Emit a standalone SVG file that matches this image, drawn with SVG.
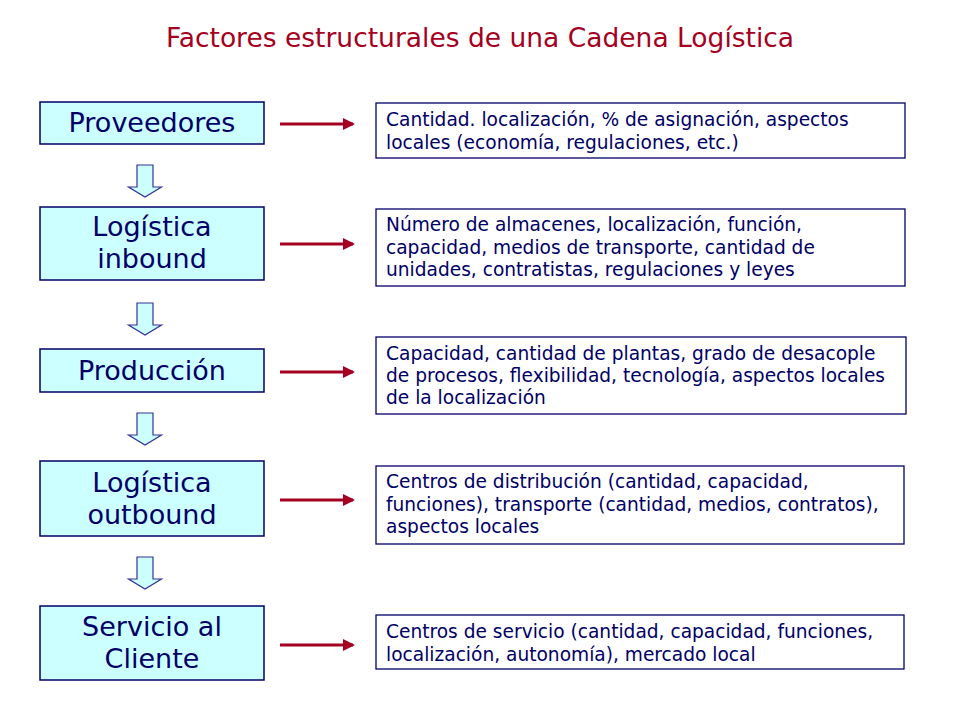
<svg xmlns="http://www.w3.org/2000/svg" width="960" height="720" viewBox="0 0 960 720">
<defs>
<style>
.stage{fill:#CCFFFF;stroke:#000066;stroke-width:1.5}
.stxt{font-family:"DejaVu Sans",Verdana,sans-serif;font-size:27px;fill:#000066;text-anchor:middle}
.desc{fill:#FFFFFF;stroke:#000066;stroke-width:1.3}
.dtxt{font-family:"DejaVu Sans",Verdana,sans-serif;font-size:18.6px;fill:#000066}
.title{font-family:"DejaVu Sans",Verdana,sans-serif;font-size:26.5px;fill:#A50021;text-anchor:middle}
.red{stroke:#A50021;stroke-width:3;fill:none}
.down{fill:#CCFFFF;stroke:#333399;stroke-width:1.2;stroke-linejoin:miter}
</style>
<marker id="ah" markerWidth="12" markerHeight="12" refX="10" refY="6" orient="auto" markerUnits="userSpaceOnUse">
<path d="M0,0 L12,6 L0,12 Z" fill="#A50021"/>
</marker>
<path id="darr" d="M-8,0 H8 V22 H16.5 L0,32 L-16.5,22 H-8 Z"/>
</defs>
<rect width="960" height="720" fill="#FFFFFF"/>
<text class="title" x="480" y="47">Factores estructurales de una Cadena Logística</text>

<g id="proveedores">
<rect class="stage" x="40" y="102" width="224" height="42"/>
<text class="stxt" x="152" y="132">Proveedores</text>
</g>
<g id="inbound">
<rect class="stage" x="40" y="207" width="224" height="73"/>
<text class="stxt" x="152" y="236">Logística</text>
<text class="stxt" x="152" y="268">inbound</text>
</g>
<g id="produccion">
<rect class="stage" x="40" y="349" width="224" height="43"/>
<text class="stxt" x="152" y="380">Producción</text>
</g>
<g id="outbound">
<rect class="stage" x="40" y="461" width="224" height="75"/>
<text class="stxt" x="152" y="492">Logística</text>
<text class="stxt" x="152" y="524">outbound</text>
</g>
<g id="servicio">
<rect class="stage" x="40" y="606" width="224" height="74"/>
<text class="stxt" x="152" y="636">Servicio al</text>
<text class="stxt" x="152" y="668">Cliente</text>
</g>

<g id="d1">
<rect class="desc" x="376" y="103" width="529" height="55"/>
<text class="dtxt" x="386" y="126">Cantidad. localización, % de asignación, aspectos</text>
<text class="dtxt" x="386" y="149">locales (economía, regulaciones, etc.)</text>
</g>
<g id="d2">
<rect class="desc" x="376" y="209" width="529" height="77"/>
<text class="dtxt" x="386" y="231">Número de almacenes, localización, función,</text>
<text class="dtxt" x="386" y="254">capacidad, medios de transporte, cantidad de</text>
<text class="dtxt" x="386" y="276">unidades, contratistas, regulaciones y leyes</text>
</g>
<g id="d3">
<rect class="desc" x="376" y="337" width="530" height="77"/>
<text class="dtxt" x="386" y="360">Capacidad, cantidad de plantas, grado de desacople</text>
<text class="dtxt" x="386" y="382">de procesos, flexibilidad, tecnología, aspectos locales</text>
<text class="dtxt" x="386" y="404">de la localización</text>
</g>
<g id="d4">
<rect class="desc" x="376" y="466" width="528" height="78"/>
<text class="dtxt" x="386" y="488">Centros de distribución (cantidad, capacidad,</text>
<text class="dtxt" x="386" y="511">funciones), transporte (cantidad, medios, contratos),</text>
<text class="dtxt" x="386" y="533">aspectos locales</text>
</g>
<g id="d5">
<rect class="desc" x="376" y="615" width="528" height="54"/>
<text class="dtxt" x="386" y="638">Centros de servicio (cantidad, capacidad, funciones,</text>
<text class="dtxt" x="386" y="661">localización, autonomía), mercado local</text>
</g>

<g id="connectors">
<use href="#darr" class="down" x="145" y="165"/>
<use href="#darr" class="down" x="145" y="303"/>
<use href="#darr" class="down" x="145" y="413"/>
<use href="#darr" class="down" x="145" y="557"/>
<line class="red" x1="280" y1="124" x2="353" y2="124" marker-end="url(#ah)"/>
<line class="red" x1="280" y1="244" x2="353" y2="244" marker-end="url(#ah)"/>
<line class="red" x1="280" y1="372" x2="353" y2="372" marker-end="url(#ah)"/>
<line class="red" x1="280" y1="500" x2="353" y2="500" marker-end="url(#ah)"/>
<line class="red" x1="280" y1="645" x2="353" y2="645" marker-end="url(#ah)"/>
</g>
</svg>
